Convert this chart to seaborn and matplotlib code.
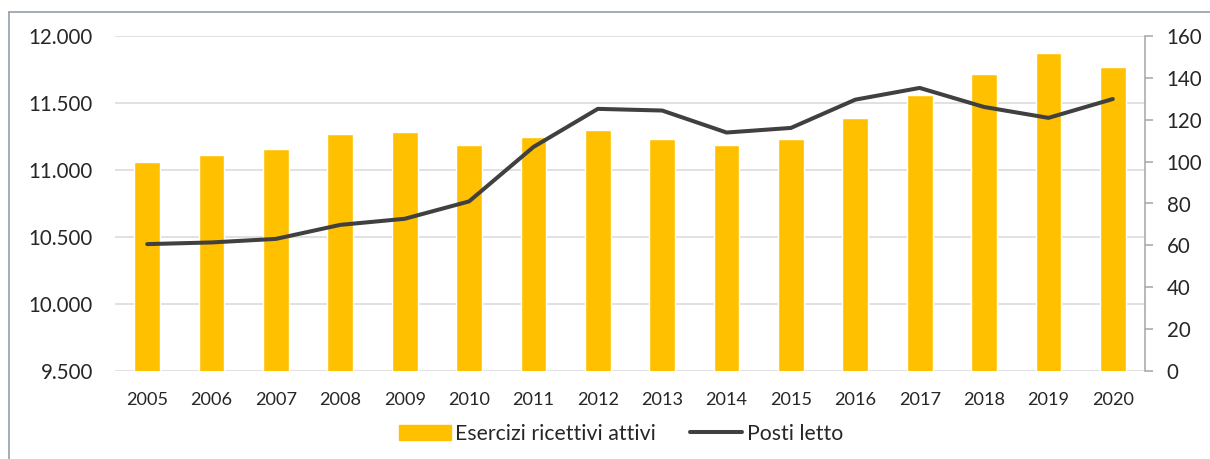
import numpy as np
import pandas as pd
import matplotlib
matplotlib.use("Agg")
import matplotlib.pyplot as plt
from matplotlib.ticker import FuncFormatter, MultipleLocator
from matplotlib.lines import Line2D
import seaborn as sns

years = [str(y) for y in range(2005, 2021)]
esercizi = [11060, 11110, 11155, 11265, 11280, 11186, 11250, 11296,
            11233, 11186, 11233, 11390, 11562, 11718, 11875, 11766]
posti_letto = [60.6, 61.4, 63.1, 69.8, 72.7, 81.0, 107.0, 125.2,
               124.4, 113.9, 116.1, 129.6, 135.2, 126.1, 120.9, 129.9]

df = pd.DataFrame({"Anno": years, "Esercizi": esercizi, "Posti": posti_letto})

sns.set_style("white")
plt.rcParams["font.family"] = ["Lato", "DejaVu Sans"]

fig = plt.figure(figsize=(12.1, 4.59), dpi=100)
ax = fig.add_axes([115 / 1210, 1 - 371 / 459, 1030 / 1210, 335 / 459])

sns.barplot(data=df, x="Anno", y="Esercizi", color="#FFC000", width=0.4,
            saturation=1, ax=ax, zorder=2)
ax.set_ylim(9500, 12000)
ax.set_xlim(-0.5, 15.5)
ax.yaxis.set_major_locator(MultipleLocator(500))
ax.yaxis.set_major_formatter(FuncFormatter(lambda v, p: f"{int(v):,}".replace(",", ".")))
ax.grid(axis="y", color="#D9D9D9", linewidth=1.1, zorder=0)
ax.set_axisbelow(True)
for s in ax.spines.values():
    s.set_visible(False)
ax.tick_params(axis="y", length=0, pad=16, labelsize=14.8, colors="#262626")
ax.tick_params(axis="x", length=0, pad=15, labelsize=13.1, colors="#262626")
ax.set_xlabel("")
ax.set_ylabel("")

ax2 = ax.twinx()
sns.lineplot(data=df, x="Anno", y="Posti", color="#404040", linewidth=2.9,
             ax=ax2, sort=False)
ax2.set_ylim(0, 160)
ax2.yaxis.set_major_locator(MultipleLocator(20))
for s in ax2.spines.values():
    s.set_visible(False)
ax2.spines["right"].set_visible(True)
ax2.spines["right"].set_color("#A6A6A6")
ax2.spines["right"].set_linewidth(1.1)
ax2.tick_params(axis="y", length=5.5, width=1.1, color="#A6A6A6", pad=10,
                labelsize=14.8, labelcolor="#262626")
ax2.set_ylabel("")
ax2.set_xlabel("")

handles = [plt.Rectangle((0, 0), 1, 1, color="#FFC000"),
           Line2D([0], [0], color="#404040", linewidth=2.9)]
fig.legend(handles, ["Esercizi ricettivi attivi", "Posti letto"],
           loc="center", bbox_to_anchor=(621 / 1210, 1 - 434 / 459), ncol=2,
           frameon=False, fontsize=15.3, handlelength=2.45, handleheight=0.75,
           handletextpad=0.2, columnspacing=1.6, labelcolor="#262626")

border = "#8C96A0"
fig.add_artist(Line2D([8.5 / 1210, 1], [1 - 12 / 459, 1 - 12 / 459],
                      transform=fig.transFigure, color=border, linewidth=1.1))
fig.add_artist(Line2D([8.5 / 1210, 8.5 / 1210], [0, 1 - 12 / 459],
                      transform=fig.transFigure, color=border, linewidth=1.1))

fig.savefig("out.png", dpi=100)
